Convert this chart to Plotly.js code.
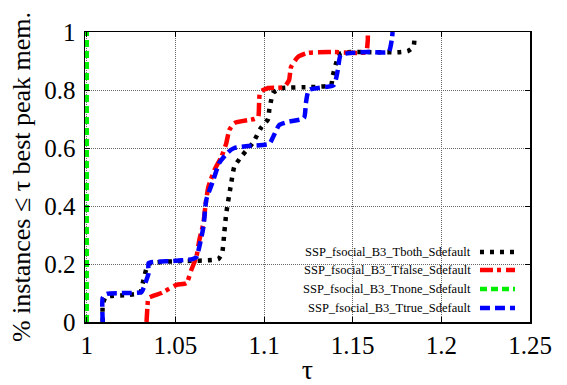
<!DOCTYPE html>
<html>
<head>
<meta charset="utf-8">
<script src="https://cdn.plot.ly/plotly-3.0.1.min.js"></script>
<style>
  html, body { margin: 0; padding: 0; background: #fff; }
  #chart { width: 567px; height: 385px; }
</style>
</head>
<body>
<div id="chart"></div>
<script>
// Performance profile: fraction of instances whose peak memory is within tau of the best
const seriesNames = [
  'SSP_fsocial_B3_Tboth_Sdefault',
  'SSP_fsocial_B3_Tfalse_Sdefault',
  'SSP_fsocial_B3_Tnone_Sdefault',
  'SSP_fsocial_B3_Ttrue_Sdefault'
];

const bothTau = [1.009, 1.009, 1.0107, 1.0225, 1.030, 1.032, 1.0349, 1.0534, 1.0742, 1.0764, 1.0776,
  1.0787, 1.0815, 1.0832, 1.0871, 1.0939, 1.0983, 1.1023, 1.1029, 1.104, 1.1051, 1.1096, 1.1264,
  1.1377, 1.1388, 1.1405, 1.1433, 1.1641, 1.1753, 1.181, 1.1843, 1.1849];
const bothFrac = [0, 0.059, 0.086, 0.093, 0.10, 0.145, 0.20, 0.21, 0.217, 0.24, 0.31,
  0.376, 0.48, 0.535, 0.57, 0.62, 0.67, 0.70, 0.73, 0.765, 0.79, 0.806, 0.81,
  0.817, 0.85, 0.89, 0.927, 0.93, 0.93, 0.934, 0.95, 0.99];

const falseTau = [1.0337, 1.0343, 1.0348, 1.0421, 1.0506, 1.0562, 1.059, 1.0618, 1.0635, 1.0658,
  1.0669, 1.0686, 1.072, 1.0759, 1.0787, 1.0804, 1.0832, 1.0944, 1.0967, 1.0972, 1.0978, 1.1023,
  1.1113, 1.1141, 1.1152, 1.1191, 1.1248, 1.1377, 1.1574, 1.1585, 1.1585];
const falseFrac = [0, 0.059, 0.083, 0.10, 0.128, 0.134, 0.18, 0.224, 0.283, 0.341,
  0.40, 0.466, 0.524, 0.569, 0.617, 0.662, 0.686, 0.70, 0.707, 0.755, 0.793, 0.807,
  0.81, 0.834, 0.879, 0.914, 0.928, 0.931, 0.931, 0.972, 1.0];

const noneTau = [1.0, 1.0];
const noneFrac = [0, 1.0];

const trueTau = [1.009, 1.009, 1.0112, 1.0225, 1.0309, 1.032, 1.0349, 1.0349, 1.0478, 1.0596, 1.0618,
  1.0658, 1.0674, 1.0714, 1.0747, 1.0798, 1.0832, 1.091, 1.1029, 1.1051, 1.1085, 1.1135, 1.1225,
  1.1236, 1.1253, 1.1393, 1.1416, 1.1433, 1.1585, 1.1703, 1.172, 1.1725];
const trueFrac = [0, 0.083, 0.097, 0.10, 0.103, 0.117, 0.169, 0.203, 0.21, 0.217, 0.224,
  0.328, 0.421, 0.49, 0.548, 0.586, 0.60, 0.607, 0.614, 0.638, 0.679, 0.69, 0.703,
  0.755, 0.80, 0.817, 0.869, 0.921, 0.931, 0.931, 0.972, 1.0];

const xTickVals = [1, 1.05, 1.1, 1.15, 1.2, 1.25];
const xTickText = ['1', '1.05', '1.1', '1.15', '1.2', '1.25'];
const yTickVals = [0, 0.2, 0.4, 0.6, 0.8, 1];
const yTickText = ['0', '0.2', '0.4', '0.6', '0.8', '1'];

// line styles per series (order: both, false, none, true)
const styles = [
  { color: '#000000', width: 4.5, dash: '4px,6px' },
  { color: '#ff0000', width: 4.5, dash: '13px,4px,4px,5px' },
  { color: '#00ee00', width: 4.5, dash: '7px,4px' },
  { color: '#0000ff', width: 4.5, dash: '10px,5px' }
];

const xs = [bothTau, falseTau, noneTau, trueTau];
const ys = [bothFrac, falseFrac, noneFrac, trueFrac];

const traces = seriesNames.map((name, i) => ({
  type: 'scatter',
  mode: 'lines',
  name: name,
  x: xs[i],
  y: ys[i],
  line: { color: styles[i].color, width: styles[i].width, dash: styles[i].dash, shape: 'spline', smoothing: 0.5 },
  hoverinfo: 'skip'
}));

const serif = 'Liberation Serif';

// hand-built legend in the lower right: label, then a line sample
const legendRows = [0.2414, 0.1793, 0.1138, 0.0483];
const shapes = [{
  type: 'rect', xref: 'paper', yref: 'paper', layer: 'below',
  x0: 0.319, x1: 1, y0: 0, y1: 0.293,
  fillcolor: '#ffffff', line: { width: 0 }
}];
const annotations = [];
seriesNames.forEach((name, i) => {
  annotations.push({
    xref: 'paper', yref: 'paper', x: 0.8719, y: legendRows[i],
    xanchor: 'right', yanchor: 'middle', showarrow: false,
    text: name, font: { family: serif, size: 12.5, color: '#000' }
  });
  shapes.push({
    type: 'line', xref: 'paper', yref: 'paper',
    x0: 0.8876, x1: 0.9663, y0: legendRows[i], y1: legendRows[i],
    line: { color: styles[i].color, width: styles[i].width, dash: styles[i].dash }
  });
});

const axisCommon = {
  showline: true, linecolor: '#000', linewidth: 1.5, mirror: 'ticks',
  ticks: 'inside', ticklen: 5, tickcolor: '#000', tickwidth: 1,
  showgrid: true, gridcolor: '#666', griddash: '1px,1px', gridwidth: 1,
  zeroline: false,
  tickfont: { family: serif, size: 25, color: '#000' }
};

const layout = {
  width: 567, height: 385,
  margin: { l: 85, r: 37, t: 32, b: 63 },
  paper_bgcolor: '#fff', plot_bgcolor: '#fff',
  showlegend: false,
  xaxis: Object.assign({}, axisCommon, {
    range: [0.999, 1.25], tickmode: 'array', tickvals: xTickVals, ticktext: xTickText,
    title: { text: 'τ', font: { family: serif, size: 28, color: '#000' }, standoff: 4 }
  }),
  yaxis: Object.assign({}, axisCommon, {
    range: [0, 1], tickmode: 'array', tickvals: yTickVals, ticktext: yTickText,
    ticklabelstandoff: 3,
    title: { text: '% instances ≤ τ best peak mem.', font: { family: serif, size: 26, color: '#000' }, standoff: 6 }
  }),
  shapes: shapes,
  annotations: annotations
};

Plotly.newPlot('chart', traces, layout, { displayModeBar: false, staticPlot: true });
</script>
</body>
</html>
